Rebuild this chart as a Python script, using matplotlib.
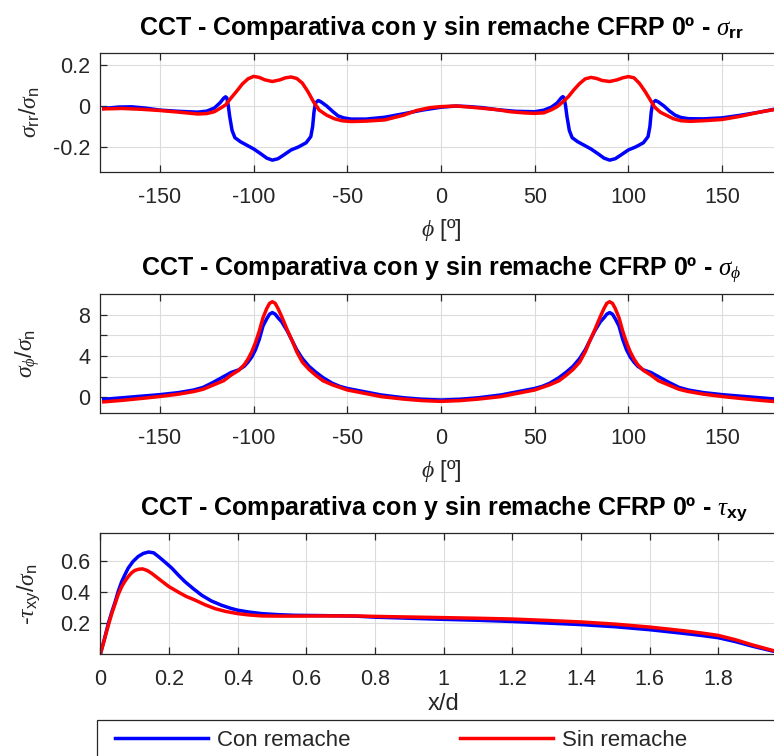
import matplotlib
matplotlib.use('Agg')
import matplotlib.pyplot as plt
from matplotlib.patches import Rectangle

plt.rcParams['font.family'] = ['Liberation Sans', 'DejaVu Sans']
plt.rcParams['mathtext.fontset'] = 'custom'
plt.rcParams['mathtext.rm'] = 'Liberation Sans'
plt.rcParams['mathtext.it'] = 'Liberation Serif:italic'
plt.rcParams['mathtext.bf'] = 'Liberation Sans:bold'

# sigma_rr / sigma_n vs phi
phi_rr_con = [-180, -172, -165, -158, -150, -140, -130, -125, -121, -118, -116, -115, -114.3, -113.5,
              -112.8, -111.5, -110, -107, -104, -100, -96, -93, -90, -87, -84, -80, -76, -72, -69.5,
              -68.5, -67.8, -67, -65.5, -64, -61, -58, -55, -52, -48, -40, -30, -20, -10, 0, 8, 15,
              22, 30, 40, 50, 55, 59, 62, 64, 65, 65.7, 66.5, 67.2, 68.5, 70, 73, 76, 80, 84, 87, 90,
              93, 96, 100, 104, 108, 110.5, 111.5, 112.2, 113, 114.5, 116, 119, 122, 125, 128, 132,
              140, 150, 160, 170, 180]
rr_con = [-0.012, -0.005, -0.004, -0.01, -0.02, -0.026, -0.03, -0.025, -0.01, 0.015, 0.038, 0.045,
          0.04, 0.0, -0.05, -0.12, -0.155, -0.175, -0.19, -0.21, -0.235, -0.255, -0.265, -0.258,
          -0.24, -0.215, -0.2, -0.18, -0.15, -0.1, -0.03, 0.015, 0.027, 0.02, 0.0, -0.025, -0.048,
          -0.058, -0.064, -0.064, -0.055, -0.038, -0.02, -0.006, 0.0, -0.003, -0.008, -0.018,
          -0.026, -0.028, -0.02, -0.005, 0.015, 0.038, 0.046, 0.04, 0.0, -0.05, -0.12, -0.155,
          -0.175, -0.19, -0.21, -0.235, -0.255, -0.265, -0.258, -0.24, -0.215, -0.2, -0.18, -0.15,
          -0.1, -0.03, 0.015, 0.027, 0.02, 0.0, -0.025, -0.045, -0.056, -0.062, -0.063, -0.058,
          -0.045, -0.03, -0.012]

phi_rr_sin = [-180, -170, -160, -150, -140, -130, -125, -121, -118, -115, -112, -109, -106, -103,
              -100, -97, -94, -90, -86, -83, -80, -77, -74, -71, -68, -65, -61, -57, -53, -48, -40,
              -30, -20, -13, -6, 0, 8, 15, 22, 30, 37, 45, 50, 55, 59, 62, 65, 68, 71, 74, 77, 80,
              83, 86, 90, 94, 97, 100, 103, 106, 109, 112, 114, 117, 120, 124, 128, 133, 140, 150,
              160, 170, 180]
rr_sin = [-0.014, -0.012, -0.016, -0.022, -0.03, -0.039, -0.037, -0.028, -0.012, 0.005, 0.04,
          0.073, 0.108, 0.133, 0.145, 0.14, 0.128, 0.12, 0.128, 0.138, 0.142, 0.135, 0.112, 0.07,
          0.02, -0.02, -0.045, -0.062, -0.072, -0.076, -0.074, -0.068, -0.045, -0.022, -0.008,
          -0.003, 0.0, -0.005, -0.011, -0.018, -0.028, -0.034, -0.036, -0.033, -0.018, -0.003, 0.02,
          0.046, 0.08, 0.11, 0.133, 0.14, 0.135, 0.125, 0.12, 0.128, 0.138, 0.144, 0.138, 0.11,
          0.07, 0.025, -0.005, -0.03, -0.044, -0.062, -0.072, -0.075, -0.072, -0.066, -0.05, -0.03,
          -0.014]

# sigma_phi / sigma_n vs phi
phi_pp = [-180, -170, -160, -150, -140, -132, -127, -122, -116, -112, -108, -105, -103, -101, -99,
          -97, -95, -93, -91.5, -90, -88.5, -87, -85, -82, -79.5, -77, -74, -70.5, -67, -63, -58,
          -54, -50, -40, -32, -20, -10, 0, 10, 20, 32, 40, 50, 54, 58, 63, 67, 70.5, 74, 77, 79.5,
          82, 85, 87, 88.5, 90, 91.5, 93, 95, 97, 99, 101, 103, 105, 108, 112, 116, 122, 127, 132,
          140, 150, 160, 170, 180]
pp_con = [-0.2, -0.05, 0.1, 0.25, 0.45, 0.7, 0.95, 1.4, 2.0, 2.4, 2.65, 3.0, 3.4, 3.9, 4.6, 5.6,
          6.9, 7.6, 8.05, 8.2, 8.05, 7.7, 7.3, 6.4, 5.5, 4.6, 3.75, 3.0, 2.45, 1.9, 1.35, 1.05, 0.85,
          0.5, 0.22, -0.05, -0.2, -0.27, -0.2, -0.05, 0.22, 0.5, 0.85, 1.05, 1.35, 1.9, 2.45, 3.0,
          3.75, 4.6, 5.5, 6.4, 7.3, 7.7, 8.05, 8.2, 8.05, 7.6, 6.9, 5.6, 4.6, 3.9, 3.4, 3.0, 2.65,
          2.4, 2.0, 1.4, 0.95, 0.7, 0.45, 0.25, 0.1, -0.05, -0.2]
pp_sin = [-0.45, -0.3, -0.12, 0.07, 0.3, 0.55, 0.77, 1.15, 1.6, 2.15, 2.6, 3.15, 3.7, 4.4, 5.3,
          6.4, 7.7, 8.6, 9.1, 9.25, 9.1, 8.6, 7.8, 6.5, 5.5, 4.4, 3.4, 2.7, 2.15, 1.6, 1.2, 0.95,
          0.7, 0.35, 0.06, -0.18, -0.33, -0.4, -0.33, -0.18, 0.06, 0.35, 0.7, 0.95, 1.2, 1.6, 2.15,
          2.7, 3.4, 4.4, 5.5, 6.5, 7.8, 8.6, 9.1, 9.25, 9.1, 8.6, 7.7, 6.4, 5.3, 4.4, 3.7, 3.15,
          2.6, 2.15, 1.6, 1.15, 0.77, 0.55, 0.3, 0.07, -0.12, -0.3, -0.45]

# -tau_xy / sigma_n vs x/d
xd_con = [0, 0.012, 0.023, 0.033, 0.043, 0.052, 0.062, 0.072, 0.081, 0.095, 0.11, 0.125, 0.14,
          0.155, 0.169, 0.185, 0.208, 0.227, 0.246, 0.27, 0.295, 0.323, 0.353, 0.38, 0.40, 0.43,
          0.47, 0.52, 0.567, 0.65, 0.742, 0.8, 0.9, 1.0, 1.1, 1.2, 1.3, 1.4, 1.5, 1.6, 1.7, 1.75,
          1.8, 1.85, 1.9, 1.93, 1.96, 2.0]
txy_con = [0, 0.1, 0.196, 0.27, 0.337, 0.405, 0.468, 0.515, 0.555, 0.598, 0.63, 0.65, 0.659,
           0.654, 0.63, 0.6, 0.555, 0.51, 0.468, 0.423, 0.38, 0.343, 0.315, 0.295, 0.283, 0.272,
           0.261, 0.254, 0.25, 0.248, 0.245, 0.238, 0.231, 0.224, 0.218, 0.21, 0.2, 0.19, 0.176,
           0.157, 0.133, 0.12, 0.105, 0.08, 0.05, 0.034, 0.018, 0.0]
xd_sin = [0, 0.012, 0.023, 0.033, 0.043, 0.052, 0.062, 0.072, 0.081, 0.09, 0.10, 0.112, 0.123,
          0.136, 0.149, 0.163, 0.178, 0.2, 0.227, 0.25, 0.276, 0.305, 0.334, 0.365, 0.40, 0.43,
          0.47, 0.52, 0.567, 0.65, 0.742, 0.8, 0.9, 1.0, 1.1, 1.2, 1.3, 1.4, 1.5, 1.6, 1.7, 1.75,
          1.8, 1.85, 1.9, 1.93, 1.96, 2.0]
txy_sin = [0, 0.095, 0.185, 0.26, 0.326, 0.385, 0.435, 0.472, 0.5, 0.523, 0.54, 0.548, 0.55,
           0.54, 0.522, 0.498, 0.472, 0.435, 0.4, 0.372, 0.348, 0.318, 0.293, 0.275, 0.261, 0.253,
           0.246, 0.245, 0.245, 0.246, 0.246, 0.243, 0.239, 0.235, 0.231, 0.226, 0.217, 0.207,
           0.193, 0.174, 0.15, 0.136, 0.12, 0.092, 0.058, 0.04, 0.022, 0.0]

title_base = 'CCT - Comparativa con y sin remache CFRP 0º - '
axis_col = '#262626'
W, H = 774, 756

fig = plt.figure(figsize=(W / 100, H / 100), dpi=100)
ax1 = fig.add_axes([100 / W, 1 - 172 / H, 682 / W, 118.7 / H])
ax2 = fig.add_axes([100 / W, 1 - 412.7 / H, 682 / W, 118.7 / H])
ax3 = fig.add_axes([100.4 / W, 1 - 654 / H, 686.6 / W, 120.7 / H])

ax1.plot(phi_rr_con, rr_con, color='blue', lw=2.5, label='Con remache')
ax1.plot(phi_rr_sin, rr_sin, color='red', lw=2.5, label='Sin remache')
ax2.plot(phi_pp, pp_con, color='blue', lw=2.5)
ax2.plot(phi_pp, pp_sin, color='red', lw=2.5)
ax3.plot(xd_con, txy_con, color='blue', lw=2.5)
ax3.plot(xd_sin, txy_sin, color='red', lw=2.5)

ax1.set_xlim(-182, 182)
ax1.set_ylim(-0.323, 0.258)
ax1.set_yticks([-0.2, 0, 0.2])
ax1.set_yticklabels(['-0.2', '0', '0.2'])
ax2.set_xlim(-182, 182)
ax2.set_ylim(-1.5, 10)
ax2.set_yticks([0, 2, 4, 6, 8])
ax2.set_yticklabels(['0', '', '4', '', '8'])
for ax in (ax1, ax2):
    ax.set_xticks([-150, -100, -50, 0, 50, 100, 150])
    ax.set_xticklabels(['-150', '-100', '-50', '0', '50', '100', '150'])
ax3.set_xlim(0, 2)
ax3.set_ylim(0, 0.78)
ax3.set_yticks([0.2, 0.4, 0.6])
ax3.set_xticks([0, 0.2, 0.4, 0.6, 0.8, 1, 1.2, 1.4, 1.6, 1.8])
ax3.set_xticklabels(['0', '0.2', '0.4', '0.6', '0.8', '1', '1.2', '1.4', '1.6', '1.8'])

tfs = 18
ax1.set_title(title_base + r'$\sigma_{\mathbf{rr}}$', fontsize=tfs, fontweight='bold', pad=13)
ax2.set_title(title_base + r'$\sigma_{\phi}$', fontsize=tfs, fontweight='bold', pad=13)
ax3.set_title(title_base + r'$\tau_{\mathbf{xy}}$', fontsize=tfs, fontweight='bold', pad=13)

ax1.set_ylabel(r'$\sigma_{\mathrm{rr}}\mathrm{/}\sigma_{\mathrm{n}}$', fontsize=17, color=axis_col)
ax2.set_ylabel(r'$\sigma_{\phi}\mathrm{/}\sigma_{\mathrm{n}}$', fontsize=17, color=axis_col)
ax3.set_ylabel(r'-$\tau_{\mathrm{xy}}\mathrm{/}\sigma_{\mathrm{n}}$', fontsize=17, color=axis_col)
ax1.set_xlabel(r'$\phi$ [º]', fontsize=17, color=axis_col)
ax2.set_xlabel(r'$\phi$ [º]', fontsize=17, color=axis_col)
ax3.set_xlabel('x/d', fontsize=17, color=axis_col)

for ax in (ax1, ax2, ax3):
    ax.grid(True, color='#dcdcdc', lw=0.8)
    ax.set_axisbelow(True)
    ax.tick_params(direction='in', length=5, width=0.9, colors=axis_col, labelsize=15.5,
                   top=True, right=True, pad=7)
    ax.tick_params(axis='x', pad=11)
    for s in ax.spines.values():
        s.set_color(axis_col)
        s.set_linewidth(0.9)
    ax.yaxis.set_label_coords(-0.085, 0.5)
ax1.xaxis.set_label_coords(0.5, -0.38)
ax2.xaxis.set_label_coords(0.5, -0.38)
ax3.xaxis.set_label_coords(0.5, -0.32)

# legend box, cut off by the figure edge like in the original
fig.patches.append(Rectangle((97 / W, -0.05), 1.0, (H - 720) / H + 0.05,
                             transform=fig.transFigure, fill=False,
                             edgecolor=axis_col, lw=0.9))
fig.legend(*ax1.get_legend_handles_labels(), loc='center left', ncol=2,
           bbox_to_anchor=(95 / W, 1 - 740 / H), frameon=False, fontsize=16,
           handlelength=4.2, handletextpad=0.4, columnspacing=4.9,
           labelcolor=axis_col)

fig.savefig('out.png', dpi=100)
